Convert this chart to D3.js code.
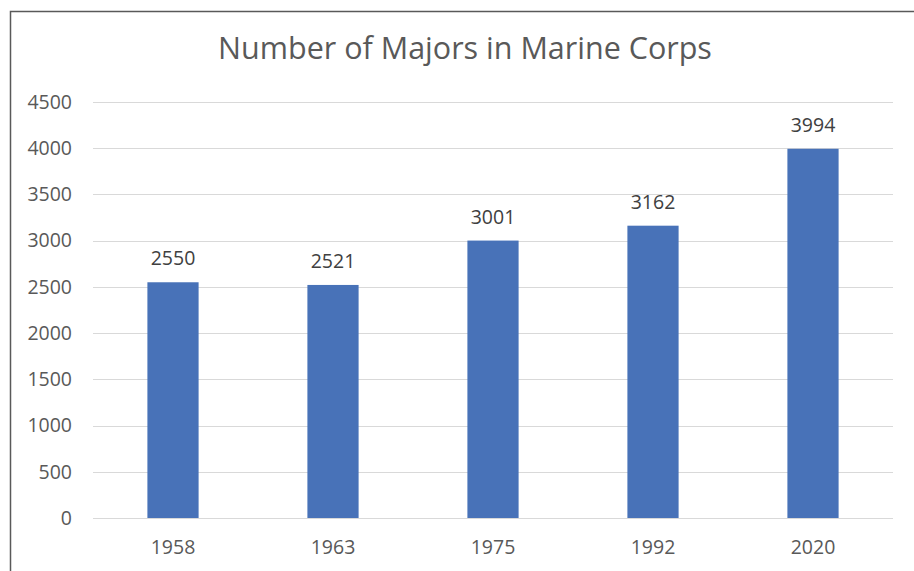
<!DOCTYPE html>
<html>
<head>
<meta charset="utf-8">
<script src="https://cdn.jsdelivr.net/npm/d3@7"></script>
<style>
  body { margin: 0; background: #fff; }
  text { font-family: "Open Sans", sans-serif; }
</style>
</head>
<body>
<svg id="chart"></svg>
<script>
const years = ["1958", "1963", "1975", "1992", "2020"];
const majors = [2550, 2521, 3001, 3162, 3994];
const yTicks = [0, 500, 1000, 1500, 2000, 2500, 3000, 3500, 4000, 4500];
const title = "Number of Majors in Marine Corps";

const width = 914, height = 571;
const margin = { top: 102, right: 21, bottom: 53, left: 93 };

const svg = d3.select("#chart").attr("width", width).attr("height", height);

// outer chart border (runs off the right/bottom edge like the screenshot)
svg.append("rect")
  .attr("x", 10.5).attr("y", 11.5)
  .attr("width", 940).attr("height", 620)
  .attr("fill", "none")
  .attr("stroke", "#595959")
  .attr("stroke-width", 1.5);

const x = d3.scaleBand()
  .domain(years)
  .range([margin.left, width - margin.right])
  .paddingInner(0.68)
  .paddingOuter(0.34);

const y = d3.scaleLinear()
  .domain([0, 4500])
  .range([height - margin.bottom, margin.top]);

// gridlines
svg.append("g")
  .selectAll("line")
  .data(yTicks)
  .join("line")
  .attr("x1", margin.left)
  .attr("x2", width - margin.right)
  .attr("y1", d => Math.round(y(d)) + 0.5)
  .attr("y2", d => Math.round(y(d)) + 0.5)
  .attr("stroke", "#d9d9d9")
  .attr("stroke-width", 1);

// y axis labels
const yAxis = svg.append("g")
  .attr("transform", `translate(${margin.left - 21},0)`)
  .call(d3.axisLeft(y).tickValues(yTicks).tickFormat(d3.format("d")).tickSize(0).tickPadding(0));
yAxis.select(".domain").remove();
yAxis.selectAll("text")
  .attr("fill", "#595959")
  .style("font-size", "19.5px")
  .style("font-family", "'Open Sans', sans-serif");

// bars
svg.append("g")
  .selectAll("rect")
  .data(majors)
  .join("rect")
  .attr("x", (d, i) => x(years[i]))
  .attr("y", d => y(d))
  .attr("width", x.bandwidth())
  .attr("height", d => y(0) - y(d))
  .attr("fill", "#4872b8");

// value labels
svg.append("g")
  .selectAll("text")
  .data(majors)
  .join("text")
  .attr("x", (d, i) => x(years[i]) + x.bandwidth() / 2)
  .attr("y", d => y(d) - 17)
  .attr("text-anchor", "middle")
  .attr("fill", "#404040")
  .style("font-size", "19.5px")
  .text(d => d);

// x axis labels
const xAxis = svg.append("g")
  .attr("transform", `translate(0,${height - margin.bottom})`)
  .call(d3.axisBottom(x).tickSize(0).tickPadding(22));
xAxis.select(".domain").remove();
xAxis.selectAll("text")
  .attr("fill", "#595959")
  .style("font-size", "19.5px")
  .style("font-family", "'Open Sans', sans-serif");

// title
svg.append("text")
  .attr("x", 465)
  .attr("y", 59)
  .attr("text-anchor", "middle")
  .attr("fill", "#595959")
  .style("font-size", "30.5px")
  .text(title);
</script>
</body>
</html>
